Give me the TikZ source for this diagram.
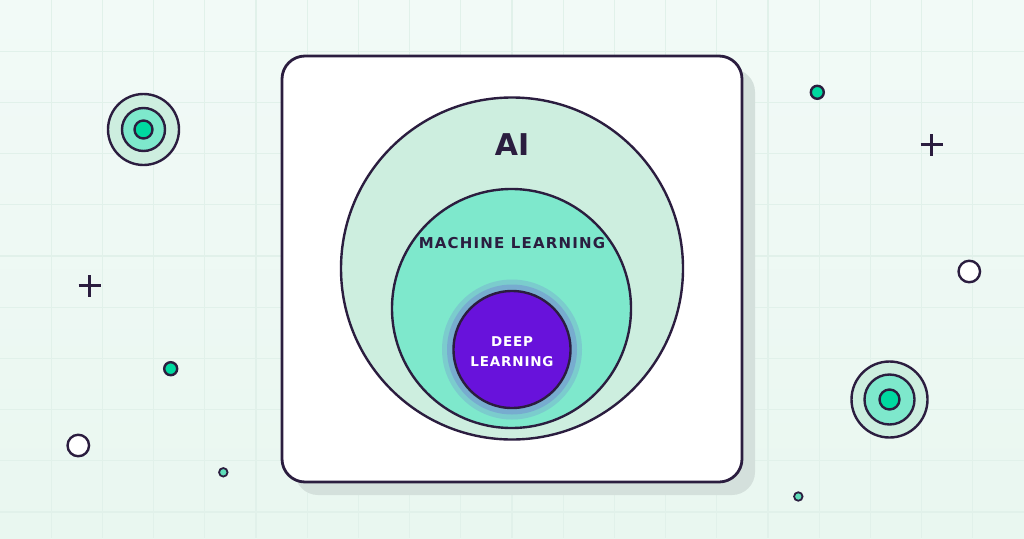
\documentclass[tikz,border=0pt]{standalone}
\usepackage{fontspec}
\setmainfont{DejaVu Sans}
\newfontfamily\mlfont{DejaVu Sans}[LetterSpace=8]
\newfontfamily\dlfont{DejaVu Sans}[LetterSpace=6]
\definecolor{bgtop}{HTML}{F2FAF7}
\definecolor{bgbot}{HTML}{E9F7F0}
\definecolor{gridline}{HTML}{E1F1EA}
\definecolor{ink}{HTML}{2B1D3F}
\definecolor{aifill}{HTML}{CDEEDF}
\definecolor{mlfill}{HTML}{7EE8CC}
\definecolor{dlfill}{HTML}{6812DB}
\definecolor{dotfill}{HTML}{00D9A0}
\definecolor{specfill}{HTML}{5EDDB9}
\definecolor{cardshadow}{HTML}{D4E0DC}
\tikzset{
  ring/.style={circle,draw=ink,line width=2.4pt,inner sep=0pt},
  plus/.style={draw=ink,line width=2.6pt},
  card/.style={rectangle,rounded corners=23pt,draw=ink,line width=2.8pt,fill=white,
    minimum width=460pt,minimum height=426pt,inner sep=0pt},
  lbl/.style={inner sep=0pt,anchor=base,font=\bfseries}
}

\begin{document}
\begin{tikzpicture}[x=1pt,y=-1pt]
\useasboundingbox (0,0) rectangle (1024,538);
\shade[top color=bgtop,bottom color=bgbot] (0,0) rectangle (1024,538);
\foreach \i in {1,...,19}
  \draw[gridline,line width=1.1pt] (\i*51.2,0) -- (\i*51.2,538);
\foreach \j in {1,...,10}
  \draw[gridline,line width=1.1pt] (0,\j*51.2) -- (1024,\j*51.2);

% card with its shadow
\fill[cardshadow,rounded corners=23pt] (295,69) rectangle (755,495);
\node[card] (card) at (512,269) {};

% nested circles
\node[ring,fill=aifill,minimum size=342pt] (ai) at (512,268.5) {};
\node[ring,fill=mlfill,minimum size=239pt] (ml) at (511.5,308.5) {};
\fill[dlfill,opacity=.13] (512,349.5) circle (70);
\fill[dlfill,opacity=.17] (512,349.5) circle (65);
\node[ring,fill=dlfill,minimum size=117pt] (dl) at (512,349.5) {};

\node[lbl,text=ink,font=\bfseries\fontsize{30}{30}\selectfont] (aitext) at (512,155) {AI};
\node[lbl,text=ink,font=\mlfont\bfseries\fontsize{15}{15}\selectfont] (mltext) at (512,248.5) {MACHINE LEARNING};
\node[lbl,text=white,font=\dlfont\bfseries\fontsize{13.5}{13.5}\selectfont] (dltextA) at (512,346) {DEEP};
\node[lbl,text=white,font=\dlfont\bfseries\fontsize{13.5}{13.5}\selectfont] (dltextB) at (512,366) {LEARNING};

% targets
\node[ring,fill=aifill,minimum size=71pt] (tgtA) at (143.5,129.5) {};
\node[ring,fill=mlfill,minimum size=43pt] (tgtAmid) at (tgtA) {};
\node[ring,fill=dotfill,minimum size=18pt] (tgtAin) at (tgtA) {};
\node[ring,fill=aifill,minimum size=76pt] (tgtB) at (889.5,399.5) {};
\node[ring,fill=mlfill,minimum size=50pt] (tgtBmid) at (tgtB) {};
\node[ring,fill=dotfill,minimum size=20pt] (tgtBin) at (tgtB) {};

% small dots and rings
\node[ring,fill=dotfill,minimum size=13pt] (dotA) at (817.3,92.3) {};
\node[ring,fill=dotfill,minimum size=13pt] (dotB) at (170.7,368.7) {};
\node[ring,fill=specfill,line width=1.8pt,minimum size=8.5pt] (specA) at (223.3,472.3) {};
\node[ring,fill=specfill,line width=1.8pt,minimum size=8.5pt] (specB) at (798.3,496.5) {};
\node[ring,fill=white,minimum size=21.5pt] (holeA) at (969.3,271.5) {};
\node[ring,fill=white,minimum size=21.5pt] (holeB) at (78.3,445.5) {};

% plus marks
\coordinate (plusA) at (89.5,285.7);
\coordinate (plusB) at (931.5,144.7);
\foreach \p in {plusA,plusB}{
  \draw[plus] ([xshift=-11pt]\p) -- ([xshift=11pt]\p);
  \draw[plus] ([yshift=-11pt]\p) -- ([yshift=11pt]\p);
}
\end{tikzpicture}
\end{document}
